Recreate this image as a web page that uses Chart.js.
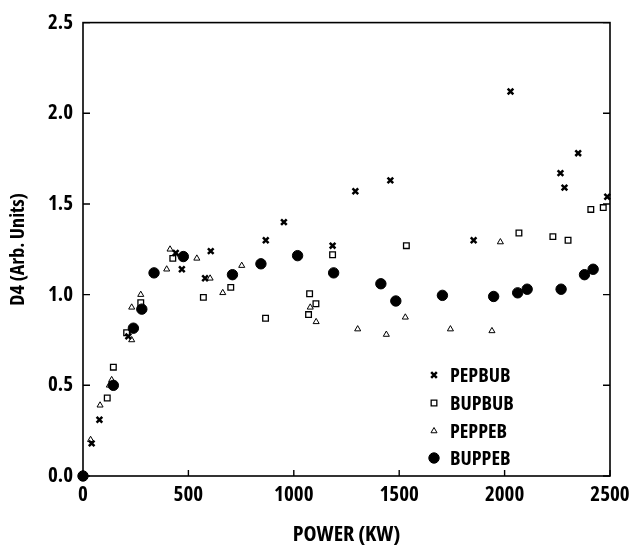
<!DOCTYPE html>
<html>
<head>
<meta charset="utf-8">
<script src="https://cdn.jsdelivr.net/npm/chart.js@4.4.1/dist/chart.umd.min.js"></script>
<style>
  html, body { margin: 0; padding: 0; background: #fff; }
  #wrap { width: 630px; height: 548px; }
</style>
</head>
<body>
<div id="wrap"><canvas id="d4Chart" width="630" height="548"></canvas></div>
<script>
// values
const pepbubX = [41, 78, 215, 440, 469, 579, 606, 867, 953, 1184, 1292, 1458, 1853, 2028, 2265, 2284, 2349, 2487];
const pepbubY = [0.18, 0.31, 0.77, 1.23, 1.14, 1.09, 1.24, 1.30, 1.40, 1.27, 1.57, 1.63, 1.30, 2.12, 1.67, 1.59, 1.78, 1.54];

const bupbubX = [115, 144, 207, 274, 426, 571, 701, 866, 1070, 1075, 1105, 1184, 1534, 2068, 2229, 2301, 2409, 2468];
const bupbubY = [0.43, 0.60, 0.79, 0.955, 1.20, 0.985, 1.04, 0.87, 0.89, 1.005, 0.95, 1.22, 1.27, 1.34, 1.32, 1.30, 1.47, 1.48];

const peppebX = [36, 81, 125, 136, 231, 231, 274, 397, 413, 540, 603, 663, 753, 1078, 1106, 1303, 1439, 1529, 1743, 1940, 1980];
const peppebY = [0.20, 0.39, 0.50, 0.53, 0.75, 0.93, 1.00, 1.14, 1.25, 1.20, 1.09, 1.01, 1.16, 0.93, 0.85, 0.81, 0.78, 0.875, 0.81, 0.80, 1.29];

const buppebX = [0, 144, 239, 279, 337, 476, 709, 844, 1018, 1189, 1413, 1484, 1705, 1948, 2062, 2107, 2268, 2379, 2420];
const buppebY = [0, 0.50, 0.815, 0.92, 1.12, 1.21, 1.11, 1.17, 1.215, 1.12, 1.06, 0.965, 0.996, 0.99, 1.01, 1.03, 1.03, 1.11, 1.14];

const xTicks = [0, 500, 1000, 1500, 2000, 2500];
const yTicks = [0.0, 0.5, 1.0, 1.5, 2.0, 2.5];

// condensed bold, close to the Helvetica Condensed of the scan
const FONT_FAMILY = "'Open Sans', 'Roboto Condensed', sans-serif";
const FONT_WEIGHT = 'condensed bold';
const tickFont = { family: FONT_FAMILY, size: 21, weight: FONT_WEIGHT };
const yTitleFont = { family: FONT_FAMILY, size: 20, weight: FONT_WEIGHT };
const xTitleFont = { family: FONT_FAMILY, size: 22, weight: FONT_WEIGHT };

function toPoints(xs, ys) {
  return xs.map((x, i) => ({ x: x, y: ys[i] }));
}

const seriesStyles = [
  { label: 'PEPBUB', pointStyle: 'crossRot', radius: 4, borderWidth: 2.5, fill: false },
  { label: 'BUPBUB', pointStyle: 'rect', radius: 4, borderWidth: 1.3, fill: false },
  { label: 'PEPPEB', pointStyle: 'triangle', radius: 3.5, borderWidth: 1, fill: false },
  { label: 'BUPPEB', pointStyle: 'circle', radius: 5.2, borderWidth: 1, fill: true }
];
const seriesData = [
  toPoints(pepbubX, pepbubY),
  toPoints(bupbubX, bupbubY),
  toPoints(peppebX, peppebY),
  toPoints(buppebX, buppebY)
];

// frame, inward ticks and the in-plot legend
const framePlugin = {
  id: 'frame',
  afterDatasetsDraw(chart) {
    const { ctx, chartArea: a, scales } = chart;
    ctx.save();
    ctx.strokeStyle = '#000';
    ctx.lineWidth = 1.6;
    ctx.strokeRect(a.left, a.top, a.right - a.left, a.bottom - a.top);
    ctx.lineWidth = 1.4;
    ctx.beginPath();
    xTicks.forEach(v => {
      const px = scales.x.getPixelForValue(v);
      ctx.moveTo(px, a.bottom);
      ctx.lineTo(px, a.bottom - 6);
    });
    yTicks.forEach(v => {
      const py = scales.y.getPixelForValue(v);
      ctx.moveTo(a.left, py);
      ctx.lineTo(a.left + 7, py);
      ctx.moveTo(a.right, py);
      ctx.lineTo(a.right - 7, py);
    });
    ctx.stroke();

    // legend
    const symX = 434, textX = 450;
    const rows = [375, 403, 431, 458];
    ctx.font = `${FONT_WEIGHT} 20px ${FONT_FAMILY}`;
    ctx.textBaseline = 'middle';
    ctx.textAlign = 'left';
    chart.data.datasets.forEach((ds, i) => {
      const y = rows[i];
      ctx.lineWidth = ds.borderWidth;
      ctx.strokeStyle = '#000';
      ctx.fillStyle = ds.backgroundColor;
      if (Chart.helpers && Chart.helpers.drawPoint) {
        Chart.helpers.drawPoint(ctx, { pointStyle: ds.pointStyle, radius: ds.pointRadius, rotation: 0, borderWidth: ds.borderWidth }, symX, y);
      }
      ctx.fillStyle = '#000';
      ctx.fillText(ds.label, textX, y + 1);
    });
    ctx.restore();
  }
};

const ctx = document.getElementById('d4Chart');
const d4Chart = new Chart(ctx, {
  type: 'scatter',
  data: {
    datasets: seriesStyles.map((s, i) => ({
      label: s.label,
      data: seriesData[i],
      pointStyle: s.pointStyle,
      pointRadius: s.radius,
      pointBorderWidth: s.borderWidth,
      borderWidth: s.borderWidth,
      borderColor: '#000',
      pointBorderColor: '#000',
      backgroundColor: s.fill ? '#000' : 'rgba(255,255,255,0)',
      pointBackgroundColor: s.fill ? '#000' : 'rgba(255,255,255,0)',
      clip: false
    }))
  },
  options: {
    responsive: false,
    animation: false,
    layout: { padding: { top: 11, right: 20, left: 0, bottom: 0 } },
    scales: {
      x: {
        type: 'linear',
        min: 0,
        max: 2500,
        afterBuildTicks: (scale) => { scale.ticks = xTicks.map(v => ({ value: v })); },
        afterFit: (scale) => { scale.height = 72; scale.paddingRight = 12; scale.paddingLeft = 0; },
        ticks: { color: '#000', font: tickFont, padding: 6, maxRotation: 0, callback: (v) => String(v) },
        grid: { display: false, drawTicks: false },
        border: { display: false },
        title: { display: true, text: 'POWER (KW)', color: '#000', font: xTitleFont, padding: { top: 0, bottom: 0 } }
      },
      y: {
        min: 0,
        max: 2.5,
        afterBuildTicks: (scale) => { scale.ticks = yTicks.map(v => ({ value: v })); },
        afterFit: (scale) => { scale.width = 83; },
        ticks: { color: '#000', font: tickFont, padding: 10, callback: (v) => Number(v).toFixed(1) },
        grid: { display: false, drawTicks: false },
        border: { display: false },
        title: { display: true, text: 'D4 (Arb. Units)', color: '#000', font: yTitleFont, padding: { top: 6, bottom: 0 } }
      }
    },
    plugins: {
      legend: { display: false },
      tooltip: { enabled: false }
    }
  },
  plugins: [framePlugin]
});
</script>
</body>
</html>
